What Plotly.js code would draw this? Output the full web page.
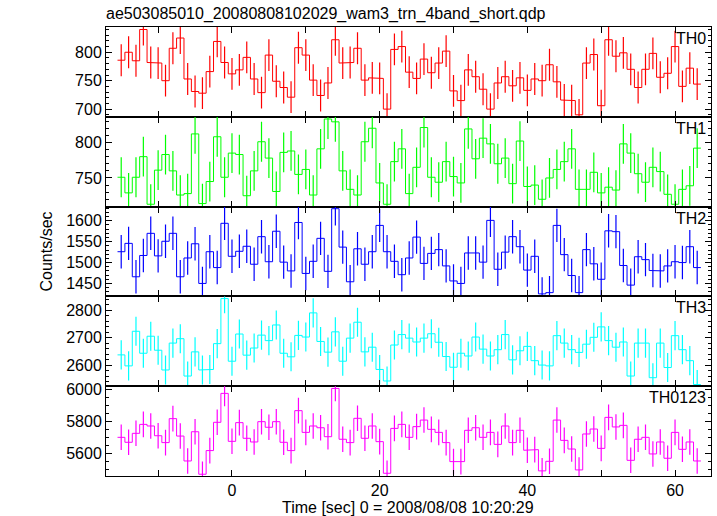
<!DOCTYPE html>
<html><head><meta charset="utf-8">
<script src="https://cdn.plot.ly/plotly-3.0.1.min.js"></script>
<style>html,body{margin:0;padding:0;background:#fff}</style>
</head><body><div id="chart" style="width:717px;height:516px"></div>
<script>
const timeSec = [-15,-14,-13,-12,-11,-10,-9,-8,-7,-6,-5,-4,-3,-2,-1,0,1,2,3,4,5,6,7,8,9,10,11,12,13,14,15,16,17,18,19,20,21,22,23,24,25,26,27,28,29,30,31,32,33,34,35,36,37,38,39,40,41,42,43,44,45,46,47,48,49,50,51,52,53,54,55,56,57,58,59,60,61,62,63];
const binWidth = 1;

const th0 = [786,800,785,840,782,781,750,807,825,753,731,728,766,819,782,762,769,791,753,729,795,749,738,721,808,795,751,724,746,822,781,782,807,751,755,754,700,805,810,765,754,788,764,781,802,732,715,769,757,735,700,746,757,741,755,733,753,750,778,748,716,715,690,781,796,706,822,793,799,770,738,770,798,756,763,810,740,772,744];
const th1 = [751,729,751,780,713,761,783,760,726,728,812,714,745,808,751,785,783,725,760,801,778,731,786,788,755,762,726,791,833,829,760,734,726,801,820,743,713,773,791,728,765,821,751,744,773,752,743,819,777,806,798,770,778,742,802,738,740,720,750,762,773,791,734,734,758,729,737,733,798,785,756,744,765,759,727,713,734,739,792];
const th2 = [1526,1546,1466,1517,1570,1516,1551,1570,1466,1511,1545,1450,1526,1488,1594,1515,1527,1539,1496,1562,1502,1575,1501,1480,1596,1474,1503,1558,1479,1629,1537,1454,1533,1496,1526,1589,1526,1503,1471,1511,1561,1498,1522,1531,1492,1456,1450,1523,1523,1501,1601,1484,1525,1562,1538,1482,1515,1425,1428,1589,1519,1469,1428,1531,1497,1460,1576,1574,1493,1446,1514,1507,1481,1480,1492,1502,1500,1538,1488];
const th3 = [2637,2597,2723,2643,2705,2654,2582,2680,2696,2560,2648,2582,2584,2678,2842,2614,2713,2636,2662,2709,2689,2746,2643,2630,2708,2702,2790,2686,2647,2721,2614,2698,2756,2648,2665,2584,2542,2673,2711,2698,2684,2698,2714,2683,2631,2592,2643,2633,2702,2658,2633,2656,2711,2619,2652,2668,2616,2600,2597,2707,2680,2656,2646,2676,2701,2739,2689,2665,2684,2560,2680,2680,2554,2680,2591,2707,2656,2616,2529];
const th0123 = [5700,5669,5725,5781,5771,5710,5667,5817,5708,5552,5735,5469,5617,5794,5975,5675,5792,5694,5671,5798,5763,5798,5669,5617,5867,5731,5771,5760,5704,6006,5688,5667,5819,5694,5771,5673,5475,5756,5781,5700,5767,5808,5750,5731,5667,5548,5548,5744,5760,5700,5731,5656,5771,5667,5744,5619,5623,5490,5550,5808,5681,5627,5496,5721,5752,5631,5825,5765,5775,5556,5688,5700,5596,5671,5569,5731,5625,5671,5552];

const bandNames = ['TH0','TH1','TH2','TH3','TH0123'];
const bandValues = [th0, th1, th2, th3, th0123];
const bandErrors = [28, 28, 40, 53, 80];

const xTickVals = [-10,0,10,20,30,40,50,60];
const xTickText = ['','0','','20','','40','','60'];

// styles
const colors = ['#ff0000','#00ff00','#0000ff','#00ffff','#ff00ff'];
const yRanges = [[686.5,844.4],[709.7,836.1],[1419,1634],[2523,2850],[5458,6020]];
const yMajor = [50,50,50,100,200];
const yMinor = [10,10,10,20,50];
const FONT = 'Liberation Sans, Arial, Helvetica, sans-serif';

const traces = [];
const layout = {
  width: 717, height: 516,
  margin: {l:106, r:6, t:27, b:40},
  paper_bgcolor: '#fff', plot_bgcolor: '#fff',
  showlegend: false,
  font: {family: FONT, size: 16, color: '#000'},
  annotations: [],
  title: {text: 'ae503085010_20080808102029_wam3_trn_4band_short.qdp', x: 0, xref: 'paper', xanchor: 'left', y: 1 - 13/516, yref: 'container', yanchor: 'middle', font: {family: FONT, size: 16, color: '#000'}}
};

const n = bandNames.length;
for (let k = 0; k < n; k++) {
  const idx = k + 1;
  const xa = idx === 1 ? 'x' : 'x' + idx;
  const ya = idx === 1 ? 'y' : 'y' + idx;
  const vals = bandValues[k];
  const sx = [], sy = [];
  for (let i = 0; i < timeSec.length; i++) {
    sx.push(timeSec[i] - binWidth/2, timeSec[i] + binWidth/2);
    sy.push(vals[i], vals[i]);
  }
  traces.push({type:'scatter', mode:'lines', x: sx, y: sy, xaxis: xa, yaxis: ya,
    line: {color: colors[k], width: 1}, hoverinfo: 'skip'});
  traces.push({type:'scatter', mode:'markers', x: timeSec, y: vals, xaxis: xa, yaxis: ya,
    marker: {size: 1, color: 'rgba(0,0,0,0)'},
    error_y: {type: 'constant', value: bandErrors[k], visible: true, color: colors[k], thickness: 1.2, width: 0},
    hoverinfo: 'skip'});

  const top = 1 - k / n, bot = 1 - (k + 1) / n;
  const xKey = idx === 1 ? 'xaxis' : 'xaxis' + idx;
  const yKey = idx === 1 ? 'yaxis' : 'yaxis' + idx;
  layout[xKey] = {
    domain: [0, 1], anchor: ya, range: [-17.06, 64.87],
    tickmode: 'array', tickvals: xTickVals, ticktext: xTickText,
    ticks: 'inside', ticklen: 6, tickwidth: 1, tickcolor: '#000',
    showline: true, linecolor: '#000', linewidth: 1, mirror: 'ticks',
    showgrid: false, zeroline: false, showticklabels: idx === n,
    tickfont: {family: FONT, size: 16, color: '#000'}
  };
  if (idx > 1) layout[xKey].matches = 'x';
  layout[yKey] = {
    domain: [bot, top], anchor: xa, range: yRanges[k],
    tickmode: 'linear', tick0: 0, dtick: yMajor[k],
    ticks: 'inside', ticklen: 6, tickwidth: 1, tickcolor: '#000',
    minor: {tickmode: 'linear', tick0: 0, dtick: yMinor[k], ticks: 'inside', ticklen: 3, tickwidth: 1, tickcolor: '#000', showgrid: false},
    showline: true, linecolor: '#000', linewidth: 1, mirror: 'ticks',
    showgrid: false, zeroline: false,
    tickfont: {family: FONT, size: 16, color: '#000'}
  };
  layout.annotations.push({
    text: bandNames[k], xref: 'paper', x: 1, xanchor: 'right', xshift: -3,
    yref: ya + ' domain', y: 1, yanchor: 'top', yshift: -1,
    showarrow: false, font: {family: FONT, size: 16, color: '#000'}
  });
}

layout.annotations.push({text: 'Counts/sec', xref: 'paper', yref: 'paper', x: (46 - 106) / 605, y: 0.5,
  textangle: -90, xanchor: 'center', yanchor: 'middle', showarrow: false, font: {family: FONT, size: 16, color: '#000'}});
layout.annotations.push({text: 'Time [sec] 0 = 2008/08/08 10:20:29', xref: 'paper', yref: 'paper', x: (408 - 106) / 605, y: (476 - 507) / 449,
  xanchor: 'center', yanchor: 'middle', showarrow: false, font: {family: FONT, size: 16, color: '#000'}});

Plotly.newPlot('chart', traces, layout, {staticPlot: true, displayModeBar: false});
</script>
</body></html>
